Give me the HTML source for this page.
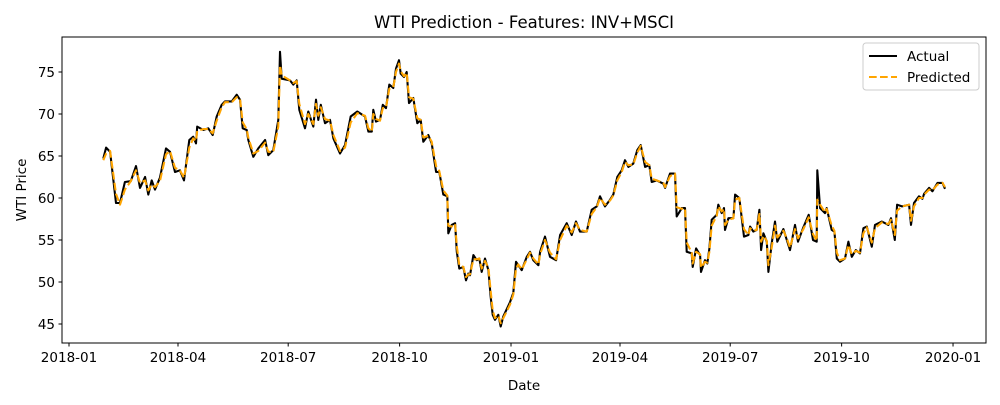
<!DOCTYPE html>
<html><head><meta charset="utf-8"><style>
body{margin:0;background:#fff;font-family:"Liberation Sans","DejaVu Sans",sans-serif;}
svg text{font-family:"DejaVu Sans","Liberation Sans",sans-serif;}
</style></head><body>
<svg id="chart" width="1000" height="400" viewBox="0 0 1000 400" xmlns="http://www.w3.org/2000/svg">
<rect width="1000" height="400" fill="#fff"/>
<text x="524" y="28" font-size="16.5" text-anchor="middle">WTI Prediction - Features: INV+MSCI</text>
<g id="plot"></g>
<rect x="62" y="37" width="924" height="306" fill="none" stroke="#000" stroke-width="1"/>
<text x="524" y="390" font-size="13.5" text-anchor="middle">Date</text>
<text x="26" y="190" font-size="13.5" text-anchor="middle" transform="rotate(-90 26 190)">WTI Price</text>
<g>
<rect x="863" y="43" width="116" height="47" rx="3" fill="#fff" stroke="#ccc"/>
<line x1="869" y1="56" x2="897" y2="56" stroke="#000" stroke-width="2.08"/>
<text x="907" y="61" font-size="13.5">Actual</text>
<line x1="869" y1="77" x2="897" y2="77" stroke="orange" stroke-width="2.08" stroke-dasharray="7.7,3.3"/>
<text x="907" y="82" font-size="13.5">Predicted</text>
</g>
</svg>
<script>
// days since 2018-01-01
const days=[28.3,30.6,33.9,38.8,42.1,46.2,51.0,55.3,58.6,62.8,65.5,68.3,71.0,75.1,80.1,83.4,87.5,91.6,95.0,99.3,102.6,104.9,105.9,110.9,115.0,118.7,122.0,126.1,128.8,134.4,138.5,141.2,143.4,146.7,148.1,152.2,156.3,161.9,164.6,168.7,172.8,174.2,175.6,182.5,185.2,188.0,190.2,194.9,197.6,201.7,204.0,205.9,207.9,211.4,215.5,218.3,223.8,227.9,232.6,238.1,244.4,247.2,250.0,251.3,253.5,256.8,259.1,261.8,264.5,267.8,270.0,272.5,273.9,276.6,278.9,280.8,284.3,287.6,290.4,292.6,296.7,299.5,303.1,305.8,309.1,312.4,313.2,316.0,318.8,320.2,322.3,325.6,327.8,329.7,331.1,333.9,336.7,338.8,340.8,343.5,346.3,348.2,349.9,351.8,354.5,356.5,358.6,364.2,366.9,369.1,371.0,373.8,378.0,380.7,383.4,387.6,389.0,393.1,397.2,402.2,405.5,411.0,415.1,418.7,422.0,427.5,431.6,435.8,438.5,442.6,446.8,449.5,452.8,456.4,459.1,461.9,466.0,469.3,472.1,475.7,479.2,481.2,485.3,490.8,492.2,496.3,500.4,501.8,506.0,508.7,510.1,514.2,515.0,517.8,521.1,521.9,525.2,527.1,528.8,530.7,534.9,536.2,539.0,540.9,541.7,544.5,548.6,550.0,553.5,557.4,561.0,562.4,565.1,567.9,570.1,571.5,573.4,576.2,577.5,580.3,583.0,584.9,589.9,592.7,595.4,599.5,602.0,606.1,610.8,614.4,617.4,617.9,620.2,624.3,625.7,629.8,632.0,634.0,636.7,640.8,643.6,646.4,649.7,653.2,656.0,658.8,662.9,665.6,671.2,676.6,678.8,681.9,683.8,687.9,693.7,695.3,697.8,701.9,704.7,706.1,710.2,713.0,717.2,721.3,723.4];
const actual=[64.7,66.0,65.5,59.4,59.4,61.9,62.0,63.8,61.2,62.5,60.4,62.1,61.0,62.4,65.9,65.5,63.1,63.3,62.1,66.9,67.3,66.5,68.5,68.1,68.3,67.5,69.7,71.1,71.5,71.5,72.3,71.7,68.3,68.1,66.9,64.9,65.9,66.9,65.1,65.7,69.3,77.4,74.2,74.0,73.5,74.0,70.5,68.3,70.3,68.5,71.7,69.3,71.1,68.9,69.3,67.1,65.3,66.3,69.7,70.3,69.7,67.9,67.9,70.5,69.1,69.3,71.1,70.7,73.5,73.1,75.4,76.4,74.8,74.4,75.0,71.3,71.9,68.9,69.3,66.7,67.5,66.5,63.1,63.1,60.4,60.2,55.8,56.8,57.0,53.6,51.6,51.8,50.2,51.0,50.8,53.2,52.6,52.8,51.2,52.8,51.4,48.2,46.1,45.5,46.1,44.7,45.9,47.6,48.7,52.4,52.0,51.4,53.0,53.6,52.6,52.0,53.6,55.4,53.0,52.6,55.6,57.0,55.6,57.2,56.0,56.0,58.6,59.0,60.2,59.0,59.8,60.4,62.5,63.3,64.5,63.7,64.1,65.7,66.3,63.7,63.9,61.9,62.1,61.7,61.2,62.9,62.9,57.8,58.8,58.8,53.6,53.4,51.8,54.0,53.2,51.2,52.6,52.2,54.0,57.4,58.0,59.2,58.2,58.8,56.2,57.6,57.6,60.4,60.0,55.4,55.6,56.6,56.0,56.2,58.6,53.8,55.8,54.8,51.2,54.6,57.2,54.8,56.3,55.0,53.8,56.8,54.8,56.4,58.0,55.0,54.8,63.3,58.8,58.2,58.8,56.2,56.0,52.8,52.4,52.8,54.8,53.0,53.8,53.4,56.4,56.6,54.2,56.8,57.2,56.8,57.6,55.0,59.2,59.0,59.2,56.8,59.4,60.2,59.9,60.5,61.2,60.8,61.8,61.8,61.1];
const predicted=[64.5,65.3,65.6,60.5,59.2,61.0,62.0,63.3,61.8,62.1,60.9,61.6,61.3,62.0,65.2,65.6,63.6,63.3,62.4,66.0,67.1,66.8,68.0,68.2,68.2,67.7,69.2,70.8,71.4,71.4,72.0,71.8,69.0,68.2,67.2,65.3,65.6,66.6,65.5,65.5,68.5,75.8,74.6,74.0,73.7,73.9,71.2,68.8,70.0,68.8,71.2,69.8,70.8,69.4,69.2,67.5,65.6,66.0,69.0,70.1,69.8,68.3,67.9,70.0,69.4,69.2,70.7,70.8,73.0,73.2,75.0,76.0,75.1,74.5,74.9,72.0,71.8,69.5,69.3,67.2,67.4,66.7,63.8,63.2,60.9,60.3,56.7,56.6,56.9,54.3,52.0,51.8,50.6,50.9,50.9,52.7,52.7,52.8,51.6,52.5,51.7,48.9,46.6,45.7,46.0,45.1,45.7,47.3,48.5,51.6,52.1,51.5,52.7,53.5,52.8,52.1,53.3,55.0,53.5,52.7,55.0,56.7,55.9,57.0,56.2,56.0,58.1,58.9,60.0,59.2,59.7,60.3,62.1,63.1,64.3,63.9,64.0,65.4,66.2,64.3,63.9,62.3,62.1,61.8,61.3,62.6,62.9,58.9,58.7,58.8,54.7,53.5,52.2,53.6,53.3,51.7,52.4,52.3,53.6,56.7,57.9,59.0,58.4,58.7,56.8,57.4,57.6,59.8,60.0,56.3,55.6,56.4,56.1,56.2,58.1,54.8,55.5,54.9,52.0,54.1,56.7,55.3,56.1,55.2,54.1,56.3,55.2,56.2,57.7,55.7,54.9,59.8,59.2,58.3,58.7,56.7,56.1,53.5,52.6,52.8,54.4,53.3,53.7,53.5,55.8,56.5,54.7,56.4,57.1,56.9,57.4,55.6,58.5,59.0,59.2,57.3,59.0,60.0,60.0,60.4,61.0,60.9,61.6,61.8,61.3];
const yTicks=[45,50,55,60,65,70,75];
const xTickDays=[0,90,181,273,365,455,546,638,730];
const xTickLabels=['2018-01','2018-04','2018-07','2018-10','2019-01','2019-04','2019-07','2019-10','2020-01'];

const NS='http://www.w3.org/2000/svg';
const plot=document.getElementById('plot');
function xS(d){return 69+d*1.211;}
function yS(v){return 72+(75-v)*8.4;}
function mk(tag,attrs){const e=document.createElementNS(NS,tag);for(const k in attrs)e.setAttribute(k,attrs[k]);plot.appendChild(e);return e;}

yTicks.forEach(v=>{
  const t=mk('line',{x1:58.5,x2:62,y1:yS(v),y2:yS(v),stroke:'#000','stroke-width':1});
  
  
  const l=mk('text',{x:55,y:yS(v)+5,'font-size':13.5,'text-anchor':'end'});
  
  
  l.textContent=v;
});
xTickDays.forEach((d,i)=>{
  const t=mk('line',{x1:xS(d),x2:xS(d),y1:343,y2:346.5,stroke:'#000','stroke-width':1});
  
  
  const l=mk('text',{x:xS(d),y:362,'font-size':13.5,'text-anchor':'middle'});
  
  
  l.textContent=xTickLabels[i];
});
function pathFor(vals){return vals.map((v,i)=>(i?'L':'M')+xS(days[i]).toFixed(1)+' '+yS(v).toFixed(1)).join(' ');}
const a=mk('path',{d:pathFor(actual),fill:'none',stroke:'#000','stroke-width':2.08,'stroke-linejoin':'round'});


const p=mk('path',{d:pathFor(predicted),fill:'none',stroke:'orange','stroke-width':2.08,'stroke-dasharray':'7.7,3.3','stroke-linejoin':'round'});


</script>
</body></html>
